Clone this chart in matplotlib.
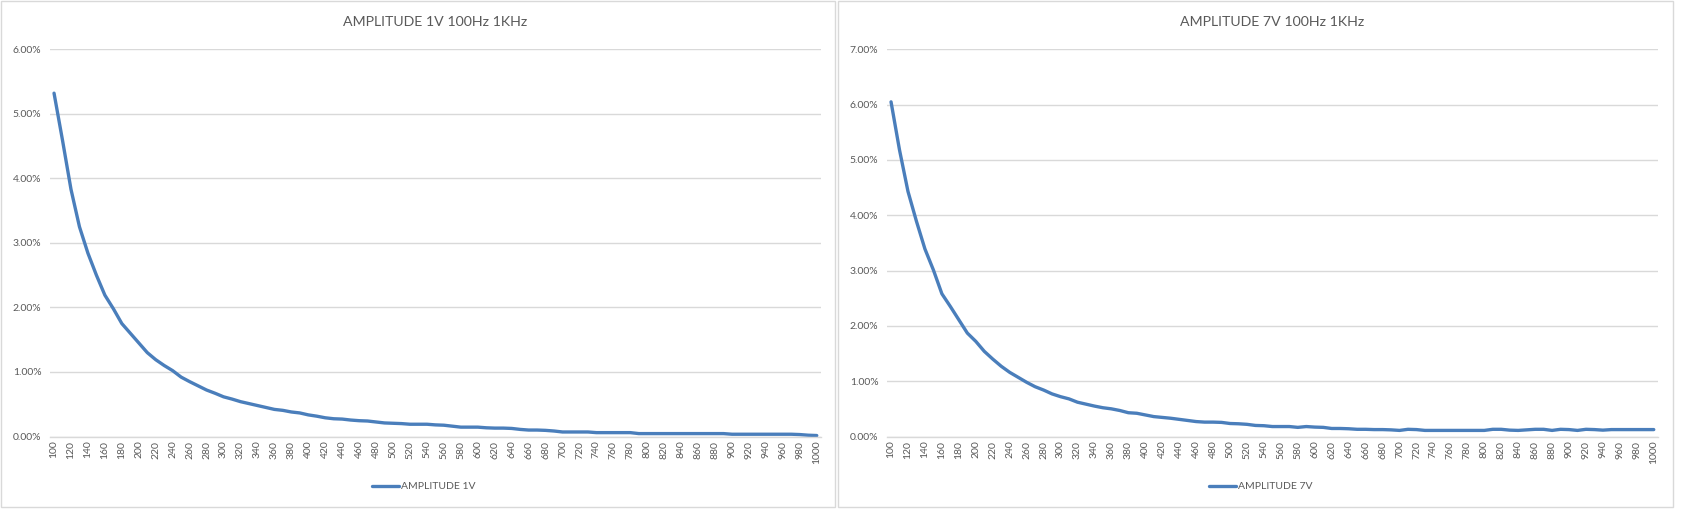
import matplotlib
matplotlib.use("Agg")
import matplotlib.pyplot as plt
from matplotlib.patches import Rectangle
from matplotlib.ticker import FuncFormatter

plt.rcParams['font.family'] = ['Lato', 'DejaVu Sans']

freqs = list(range(100, 1001, 10))
tick_labels = [str(f) for f in range(100, 1001, 20)]

amp_1v = [5.32, 4.59, 3.83, 3.25, 2.84, 2.50, 2.19, 1.98, 1.75, 1.60,
          1.45, 1.30, 1.19, 1.10, 1.02, 0.92, 0.85, 0.785, 0.72, 0.67,
          0.615, 0.58, 0.54, 0.51, 0.48, 0.45, 0.42, 0.405, 0.38, 0.365,
          0.335, 0.315, 0.29, 0.275, 0.27, 0.255, 0.245, 0.24, 0.225, 0.21,
          0.205, 0.20, 0.19, 0.19, 0.19, 0.18, 0.175, 0.16, 0.145, 0.145,
          0.145, 0.135, 0.13, 0.13, 0.125, 0.11, 0.10, 0.10, 0.095, 0.085,
          0.07, 0.07, 0.07, 0.07, 0.06, 0.06, 0.06, 0.06, 0.06, 0.045,
          0.045, 0.045, 0.045, 0.045, 0.045, 0.045, 0.045, 0.045, 0.045, 0.045,
          0.035, 0.035, 0.035, 0.035, 0.035, 0.035, 0.035, 0.035, 0.03, 0.02,
          0.015]

amp_7v = [6.05, 5.18, 4.43, 3.89, 3.39, 3.01, 2.58, 2.35, 2.11, 1.87,
          1.72, 1.54, 1.40, 1.27, 1.16, 1.07, 0.98, 0.90, 0.84, 0.77,
          0.72, 0.68, 0.62, 0.585, 0.55, 0.52, 0.50, 0.47, 0.43, 0.42,
          0.39, 0.36, 0.345, 0.33, 0.31, 0.29, 0.27, 0.26, 0.26, 0.255,
          0.235, 0.23, 0.22, 0.20, 0.195, 0.18, 0.18, 0.18, 0.165, 0.18,
          0.17, 0.165, 0.145, 0.145, 0.14, 0.13, 0.13, 0.125, 0.125, 0.12,
          0.11, 0.13, 0.125, 0.11, 0.11, 0.11, 0.11, 0.11, 0.11, 0.11,
          0.11, 0.13, 0.13, 0.115, 0.11, 0.12, 0.13, 0.13, 0.11, 0.13,
          0.125, 0.11, 0.13, 0.125, 0.115, 0.125, 0.125, 0.125, 0.125, 0.125,
          0.125]

charts = [
    ("AMPLITUDE 1V 100Hz 1KHz", "AMPLITUDE 1V", amp_1v, 6.0),
    ("AMPLITUDE 7V 100Hz 1KHz", "AMPLITUDE 7V", amp_7v, 7.0),
]

W, H = 1684, 518
fig = plt.figure(figsize=(W / 100, H / 100), dpi=100)
fig.patch.set_facecolor('white')

LINE = '#4A7EBB'
TXT = '#595959'
GRID = '#D9D9D9'

panels = [(0.5, 835), (838, 1673)]
axes_px = [(49.8, 821.0), (886.8, 1658.0)]
top_px, bot_px = 49.3, 436.5

for (title, label, vals, ymax), (p0, p1), (a0, a1) in zip(charts, panels, axes_px):
    fig.patches.append(Rectangle((p0 / W, 1 - 507 / H), (p1 - p0) / W, 506 / H,
                                 transform=fig.transFigure, fill=False,
                                 edgecolor=GRID, linewidth=1.0))
    ax = fig.add_axes([a0 / W, 1 - bot_px / H, (a1 - a0) / W, (bot_px - top_px) / H])
    ax.plot(freqs, vals, color=LINE, linewidth=2.4, label=label,
            solid_joinstyle='round', solid_capstyle='round')
    ax.set_xlim(95, 1005)
    ax.set_ylim(0, ymax)
    ax.set_yticks([float(v) for v in range(0, int(ymax) + 1)])
    ax.yaxis.set_major_formatter(FuncFormatter(lambda v, p: f"{v:.2f}%"))
    ax.set_xticks(list(range(100, 1001, 20)))
    ax.set_xticklabels(tick_labels, rotation=90)
    ax.grid(axis='y', color=GRID, linewidth=1.0)
    ax.set_axisbelow(True)
    for s in ['top', 'right', 'left']:
        ax.spines[s].set_visible(False)
    ax.spines['bottom'].set_color(GRID)
    ax.spines['bottom'].set_linewidth(1.0)
    ax.tick_params(axis='both', length=0, colors=TXT, labelsize=7.5)
    ax.tick_params(axis='y', pad=6)
    ax.tick_params(axis='x', pad=3)
    ax.text(0.5, 1 + (top_px - 22) / (bot_px - top_px), title, transform=ax.transAxes,
            ha='center', va='center', fontsize=10.2, color=TXT)
    ax.legend(loc='center', bbox_to_anchor=(0.485, -0.13), frameon=False,
              fontsize=7.5, handlelength=2.6, handletextpad=0.2,
              labelcolor=TXT)

fig.savefig('out.png', dpi=100, facecolor='white')
